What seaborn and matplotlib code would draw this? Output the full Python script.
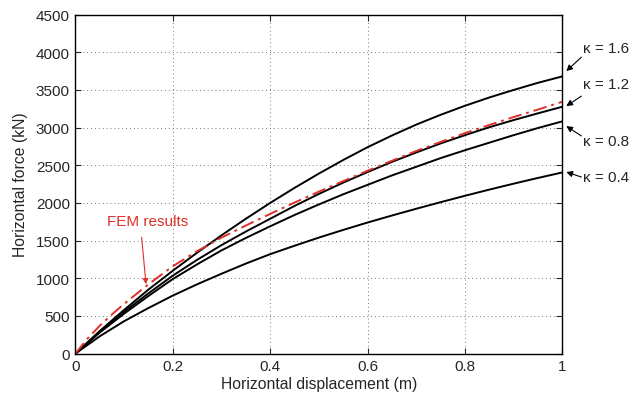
import numpy as np
import pandas as pd
import matplotlib
matplotlib.use("Agg")
import matplotlib.pyplot as plt
import seaborn as sns

# ---- data ----
x_model = [0, 0.05, 0.1, 0.15, 0.2, 0.25, 0.3, 0.35, 0.4, 0.45, 0.5,
           0.55, 0.6, 0.65, 0.7, 0.75, 0.8, 0.85, 0.9, 0.95, 1.0]
k16 = [0, 300, 580, 850, 1100, 1340, 1570, 1790, 2000, 2200, 2390,
       2570, 2740, 2895, 3040, 3170, 3290, 3400, 3500, 3595, 3680]
k12 = [0, 290, 555, 800, 1035, 1245, 1440, 1620, 1790, 1960, 2120,
       2270, 2410, 2545, 2670, 2790, 2900, 3005, 3100, 3190, 3277]
k08 = [0, 280, 530, 765, 990, 1185, 1370, 1535, 1690, 1840, 1980,
       2115, 2240, 2365, 2480, 2595, 2700, 2800, 2900, 2995, 3083]
k04 = [0, 230, 430, 605, 770, 920, 1060, 1195, 1320, 1432, 1540,
       1642, 1740, 1833, 1923, 2010, 2095, 2177, 2256, 2332, 2405]
x_fem = [0, 0.025, 0.05, 0.075, 0.1, 0.15, 0.2, 0.25, 0.3, 0.35, 0.4, 0.45,
         0.5, 0.55, 0.6, 0.65, 0.7, 0.75, 0.8, 0.85, 0.9, 0.95, 1.0]
fem = [0, 200, 370, 520, 660, 920, 1160, 1360, 1540, 1700, 1855, 2005,
       2150, 2290, 2427, 2560, 2690, 2810, 2927, 3035, 3140, 3240, 3343]

kappa_labels = ["\u03ba = 1.6", "\u03ba = 1.2", "\u03ba = 0.8", "\u03ba = 0.4"]
x_ticks = [0, 0.2, 0.4, 0.6, 0.8, 1]
x_ticklabels = ["0", "0.2", "0.4", "0.6", "0.8", "1"]
y_ticks = list(range(0, 4501, 500))

sns.set_style("ticks")
plt.rcParams["font.family"] = ["Liberation Sans", "DejaVu Sans"]

fig = plt.figure(figsize=(6.33, 4.02), dpi=100)
ax = fig.add_axes([75.4 / 633, 1 - 354.6 / 402, 487 / 633, 339 / 402])

for ys in (k16, k12, k08, k04):
    sns.lineplot(x=x_model, y=ys, ax=ax, color="black", lw=1.4, estimator=None, sort=False)

red = "#e0302a"
sns.lineplot(x=x_fem, y=fem, ax=ax, color=red, lw=1.4, estimator=None, sort=False,
             linestyle=(0, (7, 2.5, 1.5, 2.5)))

ax.set_xlim(0, 1)
ax.set_ylim(0, 4500)
ax.set_xticks(x_ticks)
ax.set_xticklabels(x_ticklabels)
ax.set_yticks(y_ticks)
ax.grid(True, linestyle=(0, (1, 3)), color="#777777", lw=0.7)
ax.tick_params(direction="in", top=True, right=True, labelsize=11, length=4, width=0.8, pad=4)
for s in ax.spines.values():
    s.set_linewidth(1.0)
    s.set_color("black")
ax.set_xlabel("Horizontal displacement (m)", fontsize=11.3, labelpad=2)
ax.set_ylabel("Horizontal force (kN)", fontsize=11.3, labelpad=6)

# kappa annotations (text + arrows) to the right of the axes
text_y = [4054, 3576, 2820, 2344]
tail_y = [3935, 3418, 2889, 2344]
head_y = [3750, 3286, 3020, 2410]
for lab, ty, tly, hy in zip(kappa_labels, text_y, tail_y, head_y):
    ax.text(1.042, ty, lab, fontsize=11, ha="left", va="center", clip_on=False)
    ax.annotate("", xy=(1.008, hy), xytext=(1.039, tly), annotation_clip=False,
                arrowprops=dict(arrowstyle="-|>", color="black", lw=0.8,
                                mutation_scale=9, shrinkA=0, shrinkB=0))

ax.text(0.065, 1760, "FEM results", color=red, fontsize=11, ha="left", va="center")
ax.annotate("", xy=(0.145, 921), xytext=(0.136, 1543),
            arrowprops=dict(arrowstyle="-|>", color=red, lw=0.8,
                            mutation_scale=8, shrinkA=0, shrinkB=0))

fig.savefig("out.png", dpi=100)
